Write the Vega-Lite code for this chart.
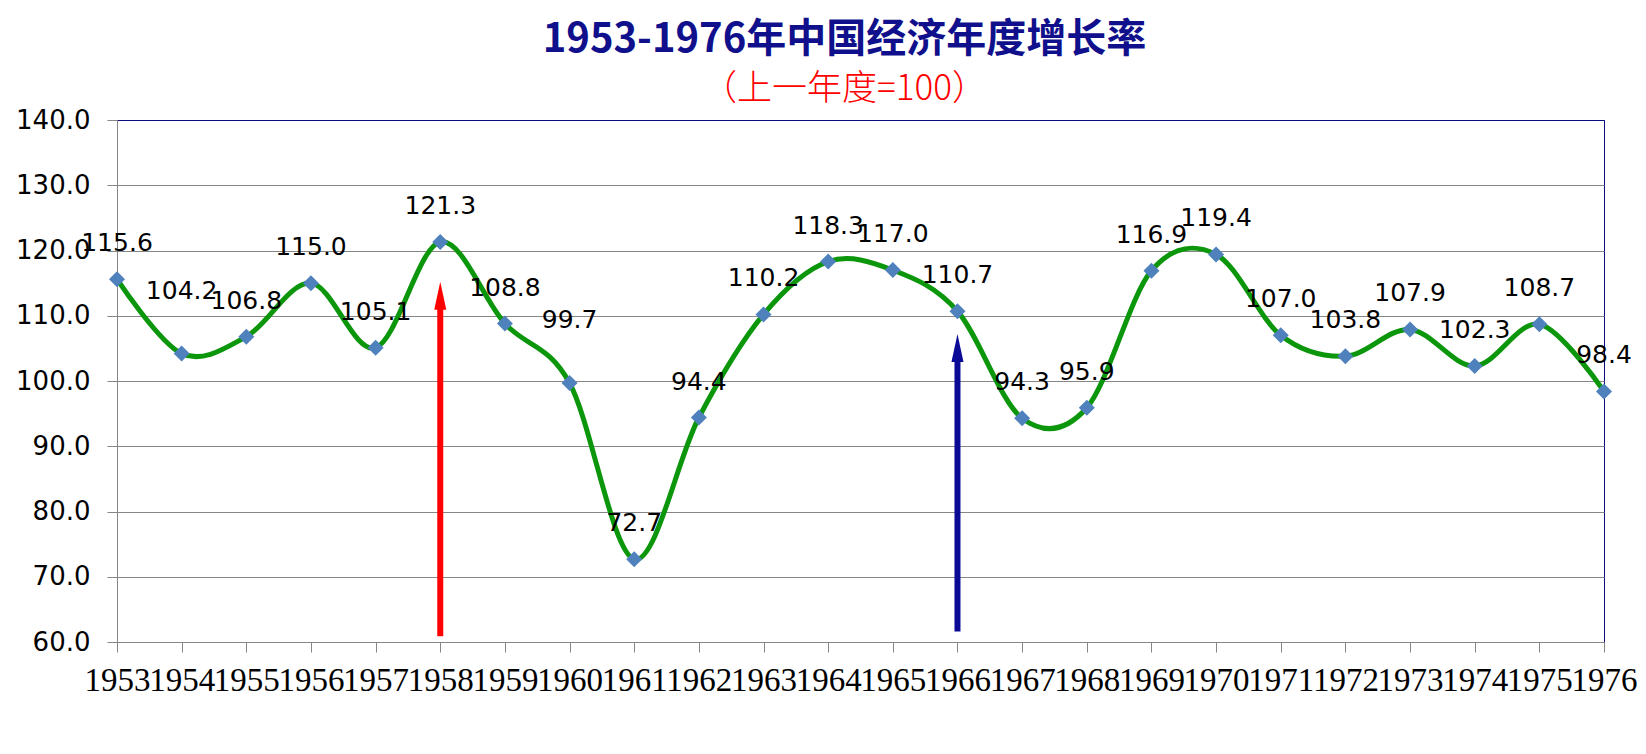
{
  "$schema": "https://vega.github.io/schema/vega-lite/v6.json",
  "width": 1487,
  "height": 522,
  "autosize": {"type": "none"},
  "padding": {"left": 117, "top": 120, "right": 42, "bottom": 112},
  "background": "white",
  "title": {
    "text": "1953-1976年中国经济年度增长率",
    "subtitle": "（上一年度=100）",
    "font": "Noto Sans CJK SC",
    "fontSize": 40,
    "fontWeight": "bold",
    "color": "#10108C",
    "subtitleFont": "Noto Sans CJK SC",
    "subtitleFontSize": 35,
    "subtitleFontWeight": 300,
    "subtitleColor": "#FF0000",
    "subtitlePadding": 12,
    "anchor": "middle",
    "frame": "group",
    "dx": -16,
    "offset": 0
  },
  "config": {"view": {"stroke": "#0B0B80", "strokeWidth": 1}},
  "datasets": {
    "growth": [
      {"year": "1953", "value": 115.6},
      {"year": "1954", "value": 104.2},
      {"year": "1955", "value": 106.8},
      {"year": "1956", "value": 115.0},
      {"year": "1957", "value": 105.1},
      {"year": "1958", "value": 121.3},
      {"year": "1959", "value": 108.8},
      {"year": "1960", "value": 99.7},
      {"year": "1961", "value": 72.7},
      {"year": "1962", "value": 94.4},
      {"year": "1963", "value": 110.2},
      {"year": "1964", "value": 118.3},
      {"year": "1965", "value": 117.0},
      {"year": "1966", "value": 110.7},
      {"year": "1967", "value": 94.3},
      {"year": "1968", "value": 95.9},
      {"year": "1969", "value": 116.9},
      {"year": "1970", "value": 119.4},
      {"year": "1971", "value": 107.0},
      {"year": "1972", "value": 103.8},
      {"year": "1973", "value": 107.9},
      {"year": "1974", "value": 102.3},
      {"year": "1975", "value": 108.7},
      {"year": "1976", "value": 98.4}
    ],
    "arrows": [
      {"year": "1958", "from": 60.9, "to": 111.5, "head": 113.05},
      {"year": "1966", "from": 61.6, "to": 103.3, "head": 105.05}
    ]
  },
  "encoding": {
    "x": {
      "field": "year",
      "type": "ordinal",
      "scale": {"type": "point", "padding": 0},
      "axis": {
        "title": null,
        "labelAngle": 0,
        "labelFont": "Liberation Serif",
        "labelFontSize": 33,
        "labelColor": "#000000",
        "labelPadding": 12,
        "labelOverlap": false,
        "tickSize": 10,
        "tickColor": "#868686",
        "domainColor": "#868686",
        "grid": false
      }
    },
    "y": {
      "field": "value",
      "type": "quantitative",
      "scale": {"domain": [60, 140], "nice": false, "zero": false},
      "axis": {
        "title": null,
        "values": [60, 70, 80, 90, 100, 110, 120, 130, 140],
        "format": ".1f",
        "labelFont": "DejaVu Sans",
        "labelFontSize": 26,
        "labelColor": "#000000",
        "labelPadding": 17,
        "tickSize": 10,
        "tickColor": "#868686",
        "domainColor": "#868686",
        "grid": true,
        "gridColor": {"condition": {"test": "datum.value == 140", "value": "#0B0B80"}, "value": "#868686"},
        "gridWidth": 1
      }
    }
  },
  "layer": [
    {
      "data": {"name": "growth"},
      "mark": {"type": "line", "interpolate": "cardinal", "color": "#0C960C", "strokeWidth": 5}
    },
    {
      "data": {"name": "arrows"},
      "mark": {"type": "rule", "strokeWidth": 6},
      "encoding": {
        "y": {"field": "from", "type": "quantitative", "scale": {"domain": [60, 140], "nice": false, "zero": false}},
        "y2": {"field": "to"},
        "color": {"field": "year", "type": "nominal", "scale": {"domain": ["1958", "1966"], "range": ["#FF0000", "#0A0A96"]}, "legend": null}
      }
    },
    {
      "data": {"name": "arrows"},
      "mark": {"type": "point", "filled": true, "opacity": 1, "shape": "M0,-1L0.43,1L-0.43,1Z", "size": 784},
      "encoding": {
        "y": {"field": "head", "type": "quantitative", "scale": {"domain": [60, 140], "nice": false, "zero": false}},
        "color": {"field": "year", "type": "nominal", "scale": {"domain": ["1958", "1966"], "range": ["#FF0000", "#0A0A96"]}, "legend": null}
      }
    },
    {
      "data": {"name": "growth"},
      "mark": {"type": "point", "shape": "diamond", "filled": true, "opacity": 1, "size": 256, "color": "#4F81BD"}
    },
    {
      "data": {"name": "growth"},
      "transform": [{"filter": "datum.year != '1954' && datum.year != '1960'"}],
      "mark": {"type": "text", "font": "DejaVu Sans", "fontSize": 25, "color": "#000000", "baseline": "middle", "align": "center", "dy": -36},
      "encoding": {
        "text": {"field": "value", "type": "quantitative", "format": ".1f"}
      }
    },
    {
      "data": {"name": "growth"},
      "transform": [{"filter": "datum.year == '1954' || datum.year == '1960'"}],
      "mark": {"type": "text", "font": "DejaVu Sans", "fontSize": 25, "color": "#000000", "baseline": "middle", "align": "center", "dy": -63},
      "encoding": {
        "text": {"field": "value", "type": "quantitative", "format": ".1f"}
      }
    }
  ]
}
